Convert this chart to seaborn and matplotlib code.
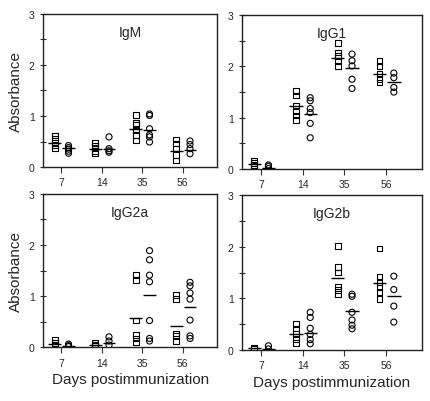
import numpy as np
import pandas as pd
import matplotlib
matplotlib.use("Agg")
import matplotlib.pyplot as plt
import seaborn as sns
from matplotlib.ticker import MultipleLocator

sns.set_theme(style="ticks")
plt.rcParams['font.family'] = ['Liberation Sans', 'DejaVu Sans']

days = ["7", "14", "35", "56"]
panels = ["IgM", "IgG1", "IgG2a", "IgG2b"]

# squares (group A) and circles (group B), per day
igm_sq = [[0.62, 0.55, 0.48, 0.42, 0.36], [0.48, 0.42, 0.36, 0.31, 0.27],
          [1.02, 0.86, 0.82, 0.73, 0.63, 0.52], [0.54, 0.46, 0.36, 0.24, 0.13]]
igm_ci = [[0.42, 0.38, 0.35, 0.31, 0.27], [0.59, 0.36, 0.32, 0.29],
          [1.04, 1.01, 0.75, 0.63, 0.59, 0.49], [0.51, 0.44, 0.36, 0.26]]
igm_sq_mean = [0.47, 0.36, 0.75, 0.31]
igm_ci_mean = [0.37, 0.36, 0.73, 0.33]

igg1_sq = [[0.16, 0.12, 0.08, 0.06], [1.52, 1.43, 1.23, 1.13, 1.04, 0.96],
           [2.46, 2.27, 2.20, 2.11, 2.01], [2.11, 2.01, 1.85, 1.75, 1.69]]
igg1_ci = [[0.08, 0.05, 0.01], [1.39, 1.33, 1.18, 1.10, 0.89, 0.61],
           [2.24, 2.11, 2.01, 1.75, 1.57], [1.87, 1.78, 1.59, 1.50]]
igg1_sq_mean = [0.10, 1.23, 2.17, 1.85]
igg1_ci_mean = [0.02, 1.07, 1.96, 1.70]

igg2a_sq = [[0.14, 0.08, 0.04], [0.09, 0.05, 0.03],
            [1.41, 1.32, 0.52, 0.24, 0.17, 0.09], [1.02, 0.94, 0.27, 0.22, 0.12]]
igg2a_ci = [[0.06, 0.03, 0.01], [0.20, 0.12, 0.04],
            [1.89, 1.71, 1.41, 1.28, 0.52, 0.17, 0.12], [1.27, 1.20, 1.06, 0.94, 0.53, 0.22, 0.17]]
igg2a_sq_mean = [0.07, 0.04, 0.57, 0.42]
igg2a_ci_mean = [0.03, 0.09, 1.02, 0.79]

igg2b_sq = [[0.05, 0.02], [0.50, 0.42, 0.31, 0.21, 0.14],
            [2.02, 1.61, 1.50, 1.23, 1.16, 1.08], [1.97, 1.42, 1.31, 1.21, 1.12, 0.99]]
igg2b_ci = [[0.08, 0.02], [0.73, 0.63, 0.42, 0.30, 0.20, 0.12],
            [1.08, 1.04, 0.73, 0.58, 0.48, 0.41], [1.43, 1.17, 0.85, 0.54]]
igg2b_sq_mean = [0.03, 0.30, 1.39, 1.29]
igg2b_ci_mean = [0.02, 0.32, 0.76, 1.05]

data = {
    "IgM": (igm_sq, igm_ci, igm_sq_mean, igm_ci_mean),
    "IgG1": (igg1_sq, igg1_ci, igg1_sq_mean, igg1_ci_mean),
    "IgG2a": (igg2a_sq, igg2a_ci, igg2a_sq_mean, igg2a_ci_mean),
    "IgG2b": (igg2b_sq, igg2b_ci, igg2b_sq_mean, igg2b_ci_mean),
}

OFF_A, OFF_B = -0.16, 0.18
HALF = 0.16

fig = plt.figure(figsize=(4.30, 4.02), dpi=100)
rects = [
    [0.100, 0.582, 0.405, 0.381],
    [0.563, 0.577, 0.418, 0.383],
    [0.100, 0.134, 0.405, 0.381],
    [0.563, 0.127, 0.418, 0.385],
]

for i, name in enumerate(panels):
    ax = fig.add_axes(rects[i])
    sq, ci, sqm, cim = data[name]
    rows = []
    for d in range(4):
        for v in sq[d]:
            rows.append({"x": d + OFF_A, "y": v, "grp": "A"})
        for v in ci[d]:
            rows.append({"x": d + OFF_B, "y": v, "grp": "B"})
    df = pd.DataFrame(rows)
    for grp, mk, sz in (("A", "s", 16), ("B", "o", 19)):
        sub = df[df.grp == grp]
        sns.scatterplot(data=sub, x="x", y="y", marker=mk, s=sz,
                        facecolor="none", edgecolor="black", linewidth=0.8,
                        ax=ax, legend=False, zorder=3)
    pos = np.arange(4)
    ax.hlines(sqm, pos + OFF_A - HALF, pos + OFF_A + HALF, color="black", lw=1.0, zorder=4)
    ax.hlines(cim, pos + OFF_B - HALF, pos + OFF_B + HALF, color="black", lw=1.0, zorder=4)

    ax.set_xlim(-0.45, 3.85)
    ax.set_ylim(0, 3)
    ax.set_xticks(pos)
    ax.set_xticklabels(days, fontsize=7.5)
    ax.set_yticks([0, 1, 2, 3])
    ax.set_yticklabels(["0", "1", "2", "3"], fontsize=7.5)
    ax.yaxis.set_minor_locator(MultipleLocator(0.5))
    ax.tick_params(axis="y", which="both", direction="inout", length=5, width=0.8, color="#333333")
    ax.tick_params(axis="x", which="major", direction="out", length=4, width=0.8, color="#333333")
    for sp in ax.spines.values():
        sp.set_color("#222222")
        sp.set_linewidth(1.0)
    ax.text(0.5, 0.93, name, transform=ax.transAxes, ha="center", va="top", fontsize=10)
    ax.set_xlabel("Days postimmunization" if i >= 2 else "", fontsize=11, labelpad=3)
    ax.set_ylabel("Absorbance" if i % 2 == 0 else "", fontsize=11, labelpad=4)

fig.savefig("out.png", dpi=100)
